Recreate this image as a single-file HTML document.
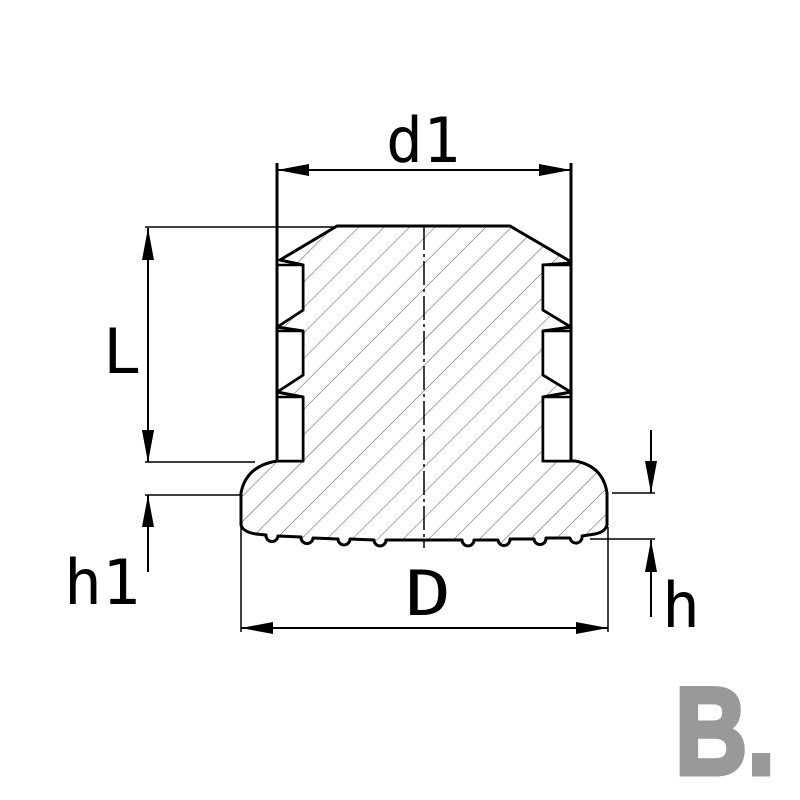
<!DOCTYPE html>
<html><head><meta charset="utf-8"><style>html,body{margin:0;padding:0;background:#fff}svg{display:block}</style></head><body>
<svg width="800" height="800" viewBox="0 0 800 800" xmlns="http://www.w3.org/2000/svg">
<defs>
<pattern id="h" patternUnits="userSpaceOnUse" width="18" height="18" patternTransform="rotate(45)">
<line x1="0" y1="0" x2="0" y2="18" stroke="#555" stroke-width="1"/>
</pattern>
<marker id="a" viewBox="0 0 32 12" refX="32" refY="6" markerWidth="32" markerHeight="12" markerUnits="userSpaceOnUse" orient="auto-start-reverse"><path d="M0,0 L32,6 L0,12 z" fill="#000"/></marker>
</defs>
<path d="M337,226 L510,226 L568,260 L571,263 L543,265 L543,310 L571,327 L543,331 L543,375 L571,392 L543,397 L543,461 L575,461 Q603,466 607,493 L607,525 Q605,532 595,534 L582,536 A6,6 0 0 1 570,538 L546,538 A6,6 0 0 1 534,539 L510,539 A6,6 0 0 1 498,540 L474,540 A6,6 0 0 1 462,540 L386,540 A6,6 0 0 1 374,540 L350,539 A6,6 0 0 1 338,539 L313,538 A6,6 0 0 1 301,537 L278,536 A6,6 0 0 1 266,535 L256,534 Q243,532 241,525 L241,493 Q246,466 277,461 L303,461 L303,397 L277,392 L303,375 L303,331 L277,327 L303,310 L303,265 L280,260 Z" fill="url(#h)" stroke="#000" stroke-width="3" stroke-linejoin="round"/>
<g fill="#fff" stroke="#000" stroke-width="2.5">
<path d="M277,265 L303,265 L303,310 L277,327 Z"/>
<path d="M277,331 L303,331 L303,375 L277,392 Z"/>
<path d="M277,397 L303,397 L303,461 L277,461 Z"/>
<path d="M571,265 L543,265 L543,310 L571,327 Z"/>
<path d="M571,331 L543,331 L543,375 L571,392 Z"/>
<path d="M571,397 L543,397 L543,461 L571,461 Z"/>
</g>
<line x1="277" y1="163" x2="277" y2="461" stroke="#000" stroke-width="3"/>
<line x1="571" y1="163" x2="571" y2="461" stroke="#000" stroke-width="3"/>
<line x1="424" y1="226" x2="424" y2="548" stroke="#000" stroke-width="1.5" stroke-dasharray="24,4,3,4"/>
<g stroke="#000" stroke-width="1.5" fill="none">
<line x1="277" y1="170" x2="571" y2="170" marker-start="url(#a)" marker-end="url(#a)" stroke-width="2"/>
<line x1="145" y1="227" x2="337" y2="227"/>
<line x1="148" y1="228" x2="148" y2="462" marker-start="url(#a)" marker-end="url(#a)" stroke-width="2"/>
<line x1="145" y1="462" x2="255" y2="462"/>
<line x1="145" y1="495" x2="240" y2="495"/>
<line x1="148" y1="420" x2="148" y2="462" marker-end="url(#a)" stroke-width="2"/>
<line x1="148" y1="572" x2="148" y2="495" marker-end="url(#a)" stroke-width="2"/>
<line x1="241" y1="527" x2="241" y2="632"/>
<line x1="608" y1="527" x2="608" y2="632"/>
<line x1="241" y1="628" x2="608" y2="628" marker-start="url(#a)" marker-end="url(#a)" stroke-width="2"/>
<line x1="612" y1="493" x2="655" y2="493"/>
<line x1="590" y1="539" x2="655" y2="539"/>
<line x1="651" y1="430" x2="651" y2="493" marker-end="url(#a)" stroke-width="2"/>
<line x1="651" y1="617" x2="651" y2="540" marker-end="url(#a)" stroke-width="2"/>
</g>
<g font-family="DejaVu Sans Mono, Liberation Mono, monospace" fill="#000">
<text x="386" y="162" font-size="62" textLength="74" lengthAdjust="spacingAndGlyphs">d1</text>
<text x="103" y="373" font-size="62" textLength="38" lengthAdjust="spacingAndGlyphs">L</text>
<text x="64" y="604" font-size="62" textLength="76" lengthAdjust="spacingAndGlyphs">h1</text>
<text x="405" y="615" font-size="62" textLength="46" lengthAdjust="spacingAndGlyphs">D</text>
<text x="662" y="627" font-size="62" textLength="38" lengthAdjust="spacingAndGlyphs">h</text>
</g>
<text x="675" y="774" font-family="Liberation Sans, DejaVu Sans, sans-serif" font-weight="700" font-size="124" fill="#999" stroke="#999" stroke-width="5" textLength="100" lengthAdjust="spacingAndGlyphs">B.</text>
</svg>
</body></html>
